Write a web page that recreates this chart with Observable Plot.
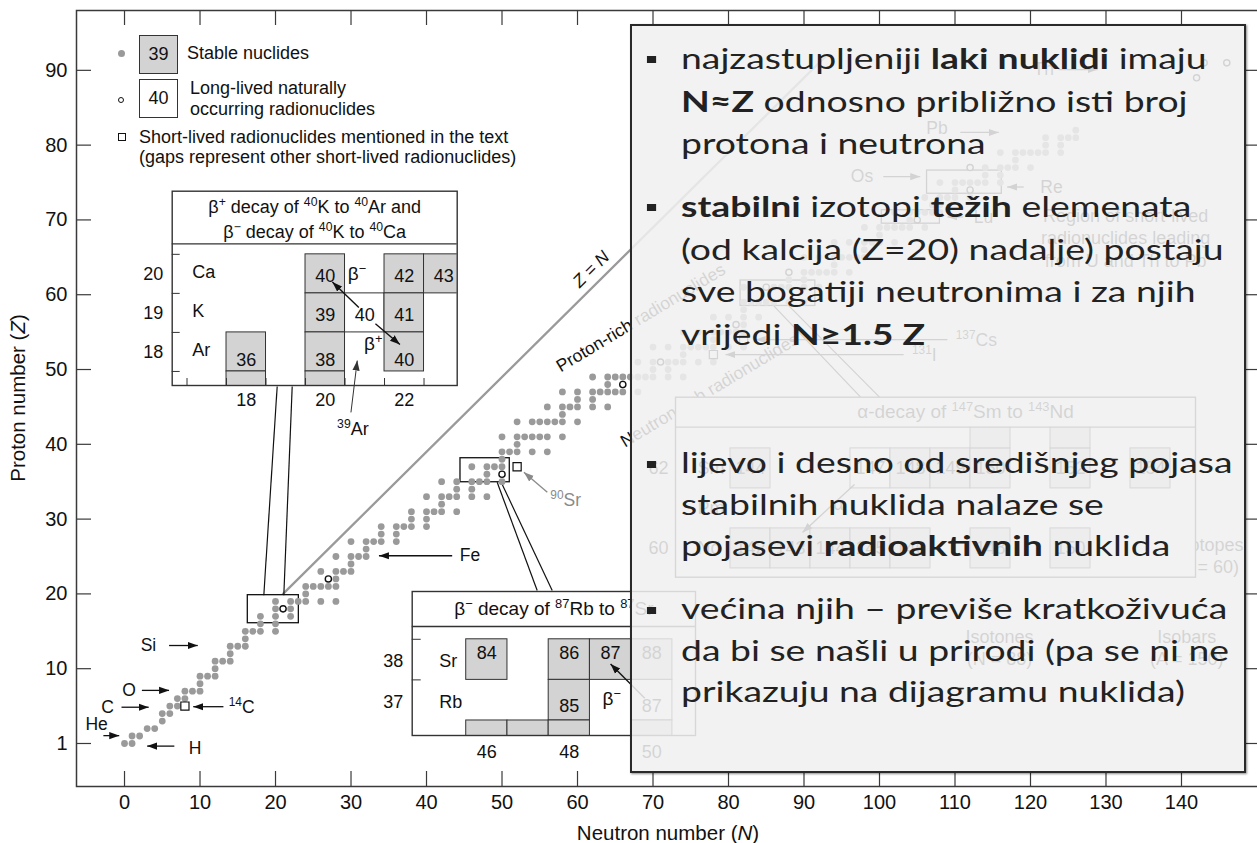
<!DOCTYPE html>
<html>
<head>
<meta charset="utf-8">
<script src="https://cdn.jsdelivr.net/npm/d3@7"></script>
<script src="https://cdn.jsdelivr.net/npm/@observablehq/plot@0.6"></script>
<style>
  html, body { margin: 0; padding: 0; background: #fff; }
  #page { position: relative; width: 1257px; height: 843px; overflow: hidden;
          font-family: "Liberation Sans", Arial, sans-serif; color: #111; }
  #page svg { position: absolute; max-width: none; }
  .lg { position: absolute; font-size: 18px; line-height: 22px; white-space: nowrap; }
  .sym { position: absolute; box-sizing: border-box; }
  .cellbox { position: absolute; width: 39px; height: 39px; box-sizing: border-box;
             border: 1px solid #333; text-align: center; line-height: 37px; font-size: 18px; }
  .title { position: absolute; font-size: 20.5px; line-height: 24px; white-space: nowrap; }
  #note { position: absolute; left: 630px; top: 24px; width: 616px; height: 749px; box-sizing: border-box;
          border: 2.6px solid #2a2a2a; background: rgba(240, 240, 240, 0.87);
          box-shadow: 1px 1px 2px rgba(0, 0, 0, 0.45); }
  #note p { position: absolute; left: 48.5px; margin: 0; white-space: nowrap; font-family: Lato, "Open Sans", sans-serif;
            font-size: 28.5px; line-height: 42.5px; color: #222; transform: scaleX(1.31); transform-origin: 0 0; }
  #note p.tight { line-height: 41.7px; }
  #note p::before { content: ""; position: absolute; left: -26px; top: 19px; width: 7px; height: 7px; background: #222; }
  #note b { font-weight: 700; }
</style>
</head>
<body>
<div id="page">
  <div id="legend">
    <span class="sym" style="left:117.6px;top:49.9px;width:7px;height:7px;border-radius:50%;background:#9a9a9a"></span>
    <span class="cellbox" style="left:139px;top:34.5px;background:#d3d3d3">39</span>
    <span class="lg" style="left:187px;top:42px">Stable nuclides</span>
    <span class="sym" style="left:117.8px;top:96.8px;width:6.5px;height:6.5px;border-radius:50%;border:1.4px solid #111;background:#fff"></span>
    <span class="cellbox" style="left:139px;top:79px;background:#fff">40</span>
    <span class="lg" style="left:190px;top:76.5px">Long-lived naturally</span>
    <span class="lg" style="left:190px;top:98px">occurring radionuclides</span>
    <span class="sym" style="left:117.5px;top:133px;width:8px;height:8px;border:1.1px solid #111;background:#fff"></span>
    <span class="lg" style="left:139px;top:125.7px">Short-lived radionuclides mentioned in the text</span>
    <span class="lg" style="left:139px;top:145.7px">(gaps represent other short-lived radionuclides)</span>
  </div>
  <div class="title" style="left:668px;top:821px;transform:translateX(-50%)">Neutron number (<i>N</i>)</div>
  <div class="title" style="left:18px;top:398px;transform:translate(-50%,-50%) rotate(-90deg)">Proton number (<i>Z</i>)</div>
  <div id="note">
    <p style="top:11px">najzastupljeniji <b>laki nuklidi</b> imaju<br><b>N≈Z</b> odnosno približno isti broj<br>protona i neutrona</p>
    <p style="top:159px"><b>stabilni</b> izotopi <b>težih</b> elemenata<br>(od kalcija (Z=20) nadalje) postaju<br>sve bogatiji neutronima i za njih<br>vrijedi <b>N≥1.5 Z</b></p>
    <p class="tight" style="top:416px">lijevo i desno od središnjeg pojasa<br>stabilnih nuklida nalaze se<br>pojasevi <b>radioaktivnih</b> nuklida</p>
    <p class="tight" style="top:562px">većina njih – previše kratkoživuća<br>da bi se našli u prirodi (pa se ni ne<br>prikazuju na dijagramu nuklida)</p>
  </div>
</div>
<script>
// ---------------------------------------------------------------------------
// Chart of the nuclides: neutron number N (x) against proton number Z (y)
// Text written as "^40K" gets its "^..." part set as a superscript.
// ---------------------------------------------------------------------------
const FONT = '"Liberation Sans", Arial, sans-serif';
const INK = "#111";
const AXIS = "#3a3a3a";
const STABLE_FILL = "#9a9a9a";
const CELL_FILL = "#d3d3d3";

// axis ticks
const nTicks = [0, 10, 20, 30, 40, 50, 60, 70, 80, 90, 100, 110, 120, 130, 140];
const zTickLabels = [1, 10, 20, 30, 40, 50, 60, 70, 80, 90];
// the decade ticks sit one row above their value; the first tick marks row 1
const zTickAt = z => (z === 1 ? 1 : z + 1);

// stable nuclides: [Z, neutron numbers]
const stableByZ = [
  [1, [0, 1]], [2, [1, 2]], [3, [3, 4]], [4, [5]], [5, [5, 6]], [6, [6, 7]], [7, [7, 8]],
  [8, [8, 9, 10]], [9, [10]], [10, [10, 11, 12]], [11, [12]], [12, [12, 13, 14]], [13, [14]],
  [14, [14, 15, 16]], [15, [16]], [16, [16, 17, 18, 20]], [17, [18, 20]], [18, [18, 20, 22]],
  [19, [20, 22]], [20, [20, 22, 23, 24, 26, 28]], [21, [24]], [22, [24, 25, 26, 27, 28]],
  [23, [28]], [24, [26, 28, 29, 30]], [25, [30]], [26, [28, 30, 31, 32]], [27, [32]],
  [28, [30, 32, 33, 34, 36]], [29, [34, 36]], [30, [34, 36, 37, 38, 40]], [31, [38, 40]],
  [32, [38, 40, 41, 42, 44]], [33, [42]], [34, [40, 42, 43, 44, 46, 48]], [35, [44, 46]],
  [36, [42, 44, 46, 47, 48, 50]], [37, [48]], [38, [46, 48, 49, 50]], [39, [50]],
  [40, [50, 51, 52, 54, 56]], [41, [52]], [42, [50, 52, 53, 54, 55, 56, 58]],
  [44, [52, 54, 55, 56, 57, 58, 60]], [45, [58]], [46, [56, 58, 59, 60, 62, 64]], [47, [60, 62]],
  [48, [58, 60, 62, 63, 64, 65, 66, 68]], [49, [64]], [50, [62, 64, 65, 66, 67, 68, 69, 70, 72, 74]],
  [51, [70, 72]], [52, [68, 70, 72, 73, 74, 76, 78]], [53, [74]],
  [54, [70, 72, 74, 75, 76, 77, 78, 80, 82]], [55, [78]], [56, [74, 76, 78, 79, 80, 81, 82]],
  [57, [82]], [58, [78, 80, 82, 84]], [59, [82]], [60, [82, 83, 84, 85, 86, 88, 90]],
  [62, [82, 86, 87, 88, 90, 92]], [63, [88, 90]], [64, [90, 91, 92, 93, 94, 96]], [65, [94]],
  [66, [90, 92, 94, 95, 96, 97, 98]], [67, [98]], [68, [94, 96, 98, 99, 100, 102]], [69, [100]],
  [70, [98, 100, 101, 102, 103, 104, 106]], [71, [104]], [72, [102, 104, 105, 106, 107, 108]],
  [73, [107, 108]], [74, [106, 108, 109, 110, 112]], [75, [110]],
  [76, [108, 110, 111, 112, 113, 114, 116]], [77, [114, 116]], [78, [114, 116, 117, 118, 120]],
  [79, [118]], [80, [116, 118, 119, 120, 121, 122, 124]], [81, [122, 124]],
  [82, [122, 124, 125, 126]], [83, [126]]
];
// long-lived naturally occurring radionuclides: [N, Z]
const longLived = [[21, 19], [27, 23], [50, 37], [66, 49], [71, 52], [81, 57], [85, 62], [88, 64],
  [105, 71], [112, 75], [112, 78], [142, 90], [143, 92], [146, 92]];
// short-lived radionuclides named in the text: [N, Z]
const shortLived = [[8, 6], [52, 38], [78, 53], [82, 55]];

// Z = N reference line
const zEqualsN = [[21, 21], [93, 93]];
// boxes around the enlarged regions: [N1, N2, Z1, Z2]
const sourceBoxes = [[16.33, 23.09, 17.08, 20.83], [44.5, 51.03, 35.93, 39.14],
  [81.6, 91.5, 59.5, 62.9], [100.3, 108, 70.5, 72.3], [106.3, 116.2, 74.5, 77.6]];
// leader lines from the boxes to the enlargements: [N1, Z1, N2, Z2]
const leaders = [[20.22, 48.73, 18.45, 20.83], [22.21, 48.73, 21.1, 20.83],
  [49.36, 35.93, 54.66, 21.45], [49.89, 35.93, 56.65, 21.45],
  [86, 59.5, 97.5, 47.3], [88, 59.5, 100, 47.3]];

// element pointers: [text, N, Z, anchor]
const pointerLabels = [
  ["Si", 4.2, 14.1, "end"], ["O", 1.5, 8.1, "end"], ["C", -1.4, 5.85, "end"],
  ["He", -3.7, 3.6, "middle"], ["H", 8.5, 0.35, "start"], ["^14C", 13.8, 5.85, "start"],
  ["Fe", 44.4, 26.1, "start"], ["Th", 120.4, 91.1, "start"], ["Pb", 106.2, 83.2, "start"],
  ["Os", 96.2, 76.8, "start"], ["Re", 121.3, 75.4, "start"], ["Lu", 112.5, 71.4, "start"],
  ["^137Cs", 110.1, 54.9, "start"], ["^131I", 104.3, 52.9, "start"]
];
// pointer arrows: [N1, Z1, N2, Z2] (head at the second point)
const pointerArrows = [
  [5.9, 14.1, 9.7, 14.1], [2.3, 8.1, 5.9, 8.1], [-0.4, 5.85, 3.2, 5.85], [-2.8, 2.05, -0.7, 2.05],
  [6.6, 0.65, 3.0, 0.65], [13.1, 5.92, 9.1, 5.92], [43.4, 26.1, 33.7, 26.1],
  [123.7, 91.1, 128.9, 91.1], [110.7, 82.7, 115.8, 82.7], [100.5, 76.8, 105.4, 76.8],
  [119.1, 75.4, 116.9, 75.4], [111.1, 71.4, 109, 71.4], [109, 55, 83.6, 55], [103.2, 53, 79.6, 53]
];
const sr90Label = [["^90Sr", 56.4, 33.5]];
const sr90Arrow = [[56.0, 34.6, 52.9, 37.27]];

// labels running along the band: [text, N, Z, angle]
const bandLabels = [["Proton-rich radionuclides", 68.4, 57.9, -31], ["Neutron-rich radionuclides", 77.5, 48.2, -31]];
const diagonalLabel = [["Z = N", 61.8, 64.4, -45]];
// region notes: [text, N, Z, anchor]
const regionNotes = [
  ["Region of short-lived\nradionuclides leading\nfrom U and Th to Pb", 132.6, 68.7, "middle"],
  ["Isotopes\n(Z = 60)", 139.2, 26.2, "start"],
  ["Isotones\n(N = 88)", 115.9, 13.9, "middle"],
  ["Isobars\n(A = 150)", 140.7, 13.9, "middle"]
];

// filled arrowhead marker
function solidHead(color, context) {
  const ns = "http://www.w3.org/2000/svg";
  const doc = context && context.document ? context.document : document;
  const m = doc.createElementNS(ns, "marker");
  m.setAttribute("viewBox", "-10 -5 10 10");
  m.setAttribute("markerWidth", 10);
  m.setAttribute("markerHeight", 10);
  m.setAttribute("markerUnits", "userSpaceOnUse");
  m.setAttribute("orient", "auto");
  m.setAttribute("refX", 0);
  m.setAttribute("refY", 0);
  const p = doc.createElementNS(ns, "path");
  p.setAttribute("d", "M-10,-3.6L0,0L-10,3.6Z");
  p.setAttribute("fill", color);
  p.setAttribute("stroke", "none");
  m.appendChild(p);
  return m;
}
let head = solidHead;
try { Plot.link([[0, 0, 1, 1]], {x1: 0, y1: 1, x2: 2, y2: 3, markerEnd: solidHead}); } catch (e) { head = "arrow"; }

// turn "^40" runs inside rendered SVG text into raised, smaller tspans
function raiseMarked(svg) {
  const ns = "http://www.w3.org/2000/svg";
  svg.querySelectorAll("text").forEach(t => {
    const lines = t.querySelector("tspan") ? [...t.querySelectorAll("tspan")] : [t];
    lines.forEach(el => {
      const s = el.textContent;
      if (!s.includes("^")) return;
      el.textContent = "";
      s.split(/(\^[0-9+−]+)/).forEach(part => {
        if (!part) return;
        if (part[0] === "^") {
          const sup = document.createElementNS(ns, "tspan");
          sup.setAttribute("baseline-shift", "super");
          sup.setAttribute("font-size", "68%");
          sup.textContent = part.slice(1);
          el.appendChild(sup);
        } else {
          el.appendChild(document.createTextNode(part));
        }
      });
    });
  });
  return svg;
}

const linkOf = (data, opts) => Plot.link(data, {x1: d => d[0], y1: d => d[1], x2: d => d[2], y2: d => d[3], ...opts});
const textOf = (data, opts) => Plot.text(data, {x: d => d[1], y: d => d[2], text: d => d[0], ...opts});

const stableDots = stableByZ.flatMap(([z, ns]) => ns.map(n => ({n, z})));
const xDom = [-6.36, 150.2];
const yDom = [-4.75, 99];
const page = document.getElementById("page");

const main = Plot.plot({
  width: 1260, height: 843,
  marginLeft: 76, marginRight: 2, marginTop: 10, marginBottom: 57,
  x: {domain: xDom, axis: null},
  y: {domain: yDom, axis: null},
  style: {fontFamily: FONT, fontSize: "18px", color: INK, background: "transparent", overflow: "visible"},
  marks: [
    Plot.line(zEqualsN, {x: d => d[0], y: d => d[1], stroke: "#9a9a9a", strokeWidth: 2.3}),
    Plot.rect(sourceBoxes, {x1: d => d[0], x2: d => d[1], y1: d => d[2], y2: d => d[3], fill: "none", stroke: INK, strokeWidth: 1.3}),
    linkOf(leaders, {stroke: INK, strokeWidth: 1.2}),
    Plot.dot(stableDots, {x: "n", y: "z", r: 3.4, fill: STABLE_FILL}),
    Plot.dot(longLived, {x: d => d[0], y: d => d[1], r: 3.1, fill: "white", stroke: INK, strokeWidth: 1.4}),
    Plot.dot(shortLived, {x: d => d[0], y: d => d[1], symbol: "square", r: 4.6, fill: "white", stroke: INK, strokeWidth: 1.2}),
    linkOf(pointerArrows, {stroke: INK, strokeWidth: 1.3, markerEnd: head}),
    linkOf(sr90Arrow, {stroke: "#8a8a8a", strokeWidth: 1.3, markerEnd: head}),
    ...["start", "middle", "end"].map(a => textOf(pointerLabels.filter(d => d[3] === a), {textAnchor: a, fontSize: 17.5})),
    textOf(sr90Label, {textAnchor: "start", fontSize: 17.5, fill: "#8a8a8a"}),
    ...bandLabels.map(d => textOf([d], {rotate: d[3], fontSize: 17.5})),
    textOf(diagonalLabel, {rotate: -45, fontSize: 17.5, fontStyle: "italic"}),
    ...["start", "middle"].map(a => textOf(regionNotes.filter(d => d[3] === a), {textAnchor: a, fontSize: 18, lineHeight: 1.25})),
    // frame and inward ticks
    Plot.ruleX(nTicks, {x: d => d, y1: yDom[0], y2: yDom[0], insetTop: -15, stroke: AXIS, strokeWidth: 1.2}),
    Plot.ruleX(nTicks, {x: d => d, y1: yDom[1], y2: yDom[1], insetBottom: -15, stroke: AXIS, strokeWidth: 1.2}),
    Plot.ruleY(zTickLabels, {y: zTickAt, x1: xDom[0], x2: xDom[0], insetRight: -15, stroke: AXIS, strokeWidth: 1.2}),
    Plot.ruleY(zTickLabels, {y: zTickAt, x1: xDom[1], x2: xDom[1], insetLeft: -12, stroke: AXIS, strokeWidth: 1.2}),
    Plot.frame({stroke: AXIS, strokeWidth: 1.5}),
    Plot.text(nTicks, {x: d => d, y: yDom[0], dy: 16, text: d => String(d), fontSize: 20}),
    Plot.text(zTickLabels, {x: xDom[0], y: zTickAt, dx: -9, text: d => String(d), textAnchor: "end", fontSize: 20})
  ]
});
main.style.left = "0px";
main.style.top = "0px";
page.insertBefore(raiseMarked(main), page.firstChild);

// ---------------------------------------------------------------------------
// enlargements of selected decay systems
// ---------------------------------------------------------------------------
function inset({left, top, width, height, margins, xDomain, yDomain, header, marks}) {
  const [mt, mr, mb, ml] = margins;
  const svg = Plot.plot({
    width, height, marginTop: mt, marginRight: mr, marginBottom: mb, marginLeft: ml,
    x: {domain: xDomain, axis: null},
    y: {domain: yDomain, axis: null},
    style: {fontFamily: FONT, fontSize: "18px", color: INK, background: "transparent", overflow: "visible"},
    marks: [
      Plot.frame({fill: "white", stroke: "none", insetTop: -header}),
      ...marks,
      Plot.ruleY([yDomain[1]], {stroke: "#333", strokeWidth: 1.3}),
      Plot.frame({stroke: "#333", strokeWidth: 1.4, insetTop: -header})
    ]
  });
  svg.style.left = left + "px";
  svg.style.top = top + "px";
  page.insertBefore(raiseMarked(svg), document.getElementById("legend"));
}
const cellRects = (cells, opts = {}) => Plot.rect(cells, {
  x1: d => d[0] - 0.5, x2: d => d[0] + 0.5, y1: d => d[1] - 0.5, y2: d => d[1] + 0.5,
  fill: d => (d[3] === "l" ? "white" : CELL_FILL), stroke: "#333", strokeWidth: 1, clip: true, ...opts
});

// 40K -> 40Ar / 40Ca: cells [N, Z, A, kind]
const kaCells = [[20, 20, 40, "s"], [22, 20, 42, "s"], [23, 20, 43, "s"], [20, 19, 39, "s"], [21, 19, 40, "l"],
  [22, 19, 41, "s"], [18, 18, 36, "s"], [20, 18, 38, "s"], [22, 18, 40, "s"], [18, 17, 35, "s"], [20, 17, 37, "s"]];
const kaRows = [[20, "Ca"], [19, "K"], [18, "Ar"]];
const kaColumnLabels = [18, 20, 22];
const kaArrows = [[20.85, 19.14, 20.18, 19.79], [21.27, 18.72, 21.89, 18.19], [20.65, 16.45, 20.81, 17.78]];
const kaX = [16.125, 23.34], kaY = [17.14, 20.77];
inset({
  left: 130, top: 186, width: 340, height: 250, margins: [57.3, 13.3, 51, 41.7],
  xDomain: kaX, yDomain: kaY, header: 52.6,
  marks: [
    cellRects(kaCells, {fill: d => (d[3] === "l" ? "none" : CELL_FILL)}),
    Plot.text(kaCells.filter(d => d[1] >= 18), {x: d => d[0], y: d => d[1] + (d[1] === 18 ? -0.2 : -0.05), text: d => String(d[2]), fontSize: 18}),
    Plot.text(kaRows, {x: kaX[0], y: d => d[0], text: d => String(d[0]), textAnchor: "end", dx: -9, fontSize: 18}),
    Plot.text(kaRows, {x: kaX[0], y: d => d[0] + 0.05, text: d => d[1], textAnchor: "start", dx: 20, fontSize: 18}),
    Plot.ruleY([17.5, 18.5, 19.5, 20.5], {y: d => d, x1: kaX[0], x2: kaX[0], insetRight: -8, stroke: "#333"}),
    Plot.ruleX([16.5, 17.5, 18.5, 19.5, 20.5, 21.5, 22.5], {x: d => d, y1: kaY[0], y2: kaY[0], insetTop: -7, stroke: "#333"}),
    Plot.text(kaColumnLabels, {x: d => d, y: kaY[0], dy: 15, text: d => String(d), fontSize: 18}),
    linkOf(kaArrows.slice(0, 2), {stroke: INK, strokeWidth: 1.4, markerEnd: head}),
    linkOf(kaArrows.slice(2), {stroke: "#333", strokeWidth: 1, markerEnd: head}),
    Plot.text([["β^−", 20.57, 20.0], ["β^+", 20.98, 18.21]], {x: d => d[1], y: d => d[2], text: d => d[0], textAnchor: "start", fontSize: 19}),
    Plot.text([["^39Ar", 20.7, 16.03]], {x: d => d[1], y: d => d[2], text: d => d[0], fontSize: 18}),
    Plot.text(["β^+ decay of ^40K to ^40Ar and\nβ^− decay of ^40K to ^40Ca"], {x: (kaX[0] + kaX[1]) / 2, y: kaY[1], dy: -26, text: d => d, lineHeight: 1.4, fontSize: 18})
  ]
});

// 87Rb -> 87Sr: cells [N, Z, A, kind]
const rsCells = [[46, 38, 84, "s"], [48, 38, 86, "s"], [49, 38, 87, "s"], [50, 38, 88, "s"],
  [48, 37, 85, "s"], [50, 37, 87, "l"], [46, 36, 82, "s"], [47, 36, 83, "s"], [48, 36, 84, "s"], [50, 36, 86, "s"]];
const rsRows = [[38, "Sr"], [37, "Rb"]];
const rsColumnLabels = [46, 48, 50];
const rsArrow = [[49.83, 37.05, 49.0, 37.89]];
const rsX = [44.19, 51.06], rsY = [36.13, 38.815];
inset({
  left: 375, top: 585, width: 335, height: 180, margins: [41, 15, 30, 36.7],
  xDomain: rsX, yDomain: rsY, header: 35,
  marks: [
    cellRects(rsCells),
    Plot.text(rsCells.filter(d => d[1] >= 37), {x: d => d[0], y: d => d[1] + (d[1] === 38 ? 0.15 : -0.14), text: d => String(d[2]), fontSize: 18}),
    Plot.text(rsRows, {x: rsX[0], y: d => d[0] - 0.05, text: d => String(d[0]), textAnchor: "end", dx: -9, fontSize: 18}),
    Plot.text(rsRows, {x: rsX[0], y: d => d[0] - 0.05, text: d => d[1], textAnchor: "start", dx: 27, fontSize: 18}),
    Plot.ruleY([37.5, 38.5], {y: d => d, x1: rsX[0], x2: rsX[0], insetRight: -9, stroke: "#333"}),
    Plot.text(rsColumnLabels, {x: d => d, y: rsY[0], dy: 17, text: d => String(d), fontSize: 18}),
    linkOf(rsArrow, {stroke: INK, strokeWidth: 1.4, markerEnd: head}),
    Plot.text([["β^−", 49.03, 37.02]], {x: d => d[1], y: d => d[2], text: d => d[0], fontSize: 19}),
    Plot.text(["β^− decay of ^87Rb to ^87Sr"], {x: (rsX[0] + rsX[1]) / 2, y: rsY[1], dy: -17.5, text: d => d, fontSize: 19})
  ]
});

// 147Sm -> 143Nd: cells [N, Z, A, kind]
const smCells = [[82, 60, 142, "s"], [83, 60, 143, "s"], [84, 60, 144, "s"], [85, 60, 145, "s"], [86, 60, 146, "s"],
  [88, 60, 148, "s"], [90, 60, 150, "s"], [82, 62, 144, "s"], [85, 62, 147, "l"], [86, 62, 148, "s"],
  [87, 62, 149, "s"], [88, 62, 150, "s"], [90, 62, 152, "s"], [92, 62, 154, "s"], [88, 63, 151, "s"], [90, 63, 153, "s"]];
const smRows = [[62, "Sm"], [61, "Pm"], [60, "Nd"]];
const smX = [80.125, 93.125], smY = [59.28, 63.03];
inset({
  left: 630, top: 380, width: 600, height: 225, margins: [46.7, 35, 28.3, 45],
  xDomain: smX, yDomain: smY, header: 30,
  marks: [
    cellRects(smCells),
    Plot.text(smCells.filter(d => d[1] < 63), {x: d => d[0], y: d => d[1], text: d => String(d[2]), fontSize: 18}),
    Plot.text(smRows.filter(d => d[0] !== 61), {x: smX[0], y: d => d[0], text: d => String(d[0]), textAnchor: "end", dx: -7, fontSize: 18}),
    Plot.text(smRows, {x: smX[0], y: d => d[0], text: d => d[1], textAnchor: "start", dx: 22, fontSize: 18}),
    linkOf([[84.6, 61.6, 83.3, 60.4]], {stroke: INK, strokeWidth: 1.3, markerEnd: head}),
    Plot.text([["α", 84.2, 61.1]], {x: d => d[1], y: d => d[2], text: d => d[0], fontSize: 18}),
    Plot.text(["α-decay of ^147Sm to ^143Nd"], {x: 87.375, y: smY[1], dy: -15, text: d => d, fontSize: 19})
  ]
});
</script>
</body>
</html>
